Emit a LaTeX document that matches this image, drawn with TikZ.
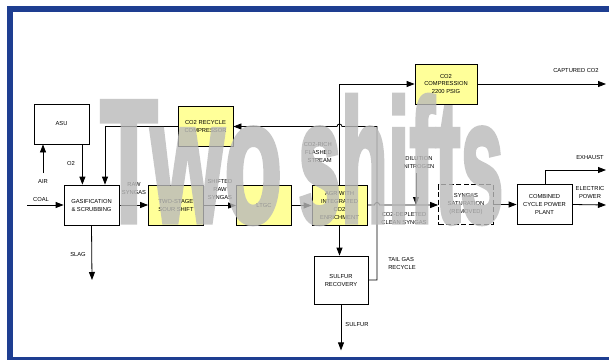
\documentclass[tikz,border=0pt]{standalone}
\usepackage{fontspec}
\setmainfont{Liberation Sans}
\newfontfamily\filigranafont[FakeBold=3]{Liberation Sans Bold}
\usetikzlibrary{arrows.meta}
\definecolor{cornice}{RGB}{30,62,145}
\definecolor{giallo}{RGB}{255,255,153}
\tikzset{
  blocco/.style={draw, line width=0.8pt, minimum width=55pt, minimum height=40pt,
    inner sep=1pt, align=center, font=\fontsize{5.8}{8}\selectfont},
  attivo/.style={blocco, fill=giallo},
  etichetta/.style={align=center, inner sep=0pt, font=\fontsize{5.8}{8}\selectfont},
  flusso/.style={line width=0.8pt, -{Triangle[length=8pt,width=6pt]}},
  filigrana/.style={anchor=base west, inner sep=0pt, text=black!27,
    font=\fontsize{175}{175}\filigranafont}
}
\begin{document}
\begin{tikzpicture}[x=1pt,y=-1pt]
  \useasboundingbox (0,0) rectangle (609,359);
  \fill[white] (0,0) rectangle (609,359);
  \draw[cornice, line width=6pt] (10,9) rectangle (615,360);

  % Blocchi del processo
  \foreach \nome/\pos/\testo in {asu/{61.5,124}/ASU,
      gasif/{91.5,205}/{GASIFICATION\\\& SCRUBBING},
      ciclo/{544.5,204.5}/{COMBINED\\CYCLE POWER\\PLANT}}
    \node[blocco] (\nome) at (\pos) {\testo};
  \foreach \nome/\pos/\testo in {ricomp/{205.5,126.5}/{CO2 RECYCLE\\COMPRESSOR},
      shift/{176,205.5}/{TWO-STAGE\\SOUR SHIFT},
      ltgc/{264,205.5}/LTGC,
      agr/{339.5,205}/{AGR WITH\\INTEGRATED\\CO2\\ENRICHMENT}}
    \node[attivo] (\nome) at (\pos) {\testo};
  \node[attivo, minimum width=62pt] (comp) at (446,84) {CO2\\COMPRESSION\\2200 PSIG};
  \node[blocco, dash pattern=on 5pt off 2.5pt] (satur) at (466,204.5) {SYNGAS\\SATURATION\\(REMOVED)};
  \node[blocco, minimum width=54pt, minimum height=48pt] (recupero) at (341,280) {SULFUR\\RECOVERY};

  % Etichette
  \node[etichetta] (o2) at (71,163) {O2};
  \node[etichetta] (aria) at (43,181) {AIR};
  \node[etichetta] (carbone) at (41,199) {COAL};
  \node[etichetta] (scorie) at (78,254) {SLAG};
  \node[etichetta] (grezzo) at (134,189) {RAW\\SYNGAS};
  \node[etichetta] (shiftato) at (220,189) {SHIFTED\\RAW\\SYNGAS};
  \node[etichetta, align=right, anchor=east] (flash) at (332,152) {CO2-RICH\\FLASHED\\STREAM};
  \node[etichetta] (pulito) at (404,218) {CO2-DEPLETED\\CLEAN SYNGAS};
  \node[etichetta] (diluizione) at (419,162) {DILUTION\\NITROGEN};
  \node[etichetta, align=left] (coda) at (402,263) {TAIL GAS\\RECYCLE};
  \node[etichetta] (zolfo) at (357,324) {SULFUR};
  \node[etichetta] (catturata) at (576,71) {CAPTURED CO2};
  \node[etichetta] (scarico) at (590,157) {EXHAUST};
  \node[etichetta] (potenza) at (590,192) {ELECTRIC\\POWER};

  \coordinate (inaria) at (43,173);
  \coordinate (incarbone) at (27,205);
  \coordinate (outscorie) at (92,280);
  \coordinate (inazoto) at (416,173);
  \coordinate (outco2) at (606,84);
  \coordinate (outscarico) at (606,170);
  \coordinate (outpotenza) at (606,205);
  \coordinate (giro) at (377,280);

  % Flussi
  \draw[flusso] (inaria) -- (inaria |- asu.south);
  \draw[flusso] ([xshift=-7pt]asu.south east) -- ([xshift=-7pt]asu.south east |- gasif.north);
  \draw[flusso] (incarbone) -- (gasif.west);
  \draw[flusso] (gasif.south) -- (outscorie);
  \draw[flusso] (gasif.east) -- (gasif.east -| shift.west);
  \draw[flusso] (shift.east) -- (ltgc.west);
  \draw[flusso] (ltgc.east) -- (ltgc.east -| agr.west);
  \draw[flusso] (agr.east) -- ([xshift=-2.5pt]giro |- agr.east) arc (180:360:2.5) -- (agr.east -| satur.west);
  \draw[flusso] (inazoto) -- (inazoto |- agr.east);
  \draw[flusso] (satur.east) -- (ciclo.west);
  \draw[flusso] (ciclo.east) -- (outpotenza);
  \draw[flusso] ([xshift=0.5pt]ciclo.north) |- (outscarico);
  \draw[flusso] (comp.east) -- (outco2);
  \draw[flusso] (agr.north) |- (comp.west);
  \draw[flusso] (agr.south) -- (agr.south |- recupero.north);
  \draw[flusso] (recupero.south) -- ++(0,46);
  \draw[flusso] (recupero.east) -- (giro) -- (giro |- ricomp.east)
    -- ([xshift=2.5pt]agr.north |- ricomp.east) arc (0:-180:2.5) -- (ricomp.east);
  \draw[flusso] (ricomp.west) -| ([xshift=13.5pt]gasif.north);

  % Filigrana
  \begin{scope}[transparency group, opacity=0.8]
    \node[filigrana, xscale=0.54] (fil1) at (100,222) {Two};
    \node[filigrana, xscale=0.44] (fil2) at (298,222) {shifts};
  \end{scope}
\end{tikzpicture}
\end{document}
